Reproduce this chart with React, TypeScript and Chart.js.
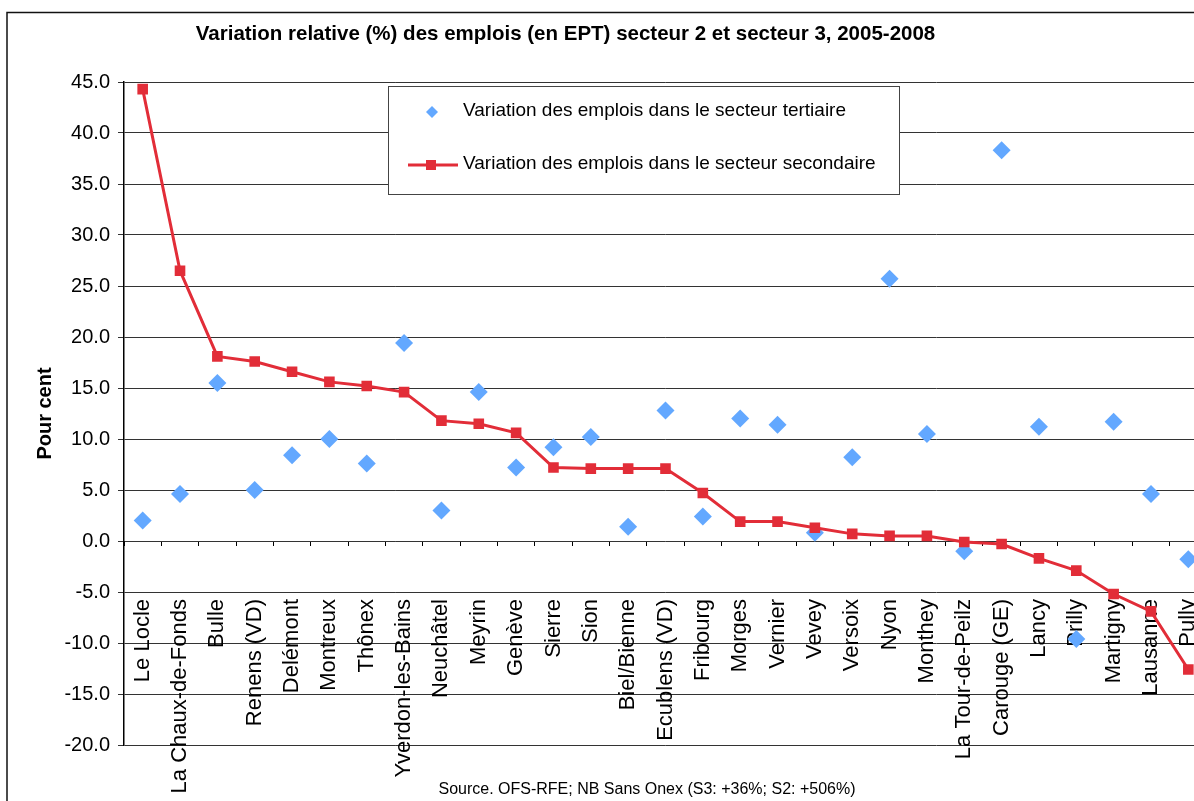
import React, { useEffect, useRef } from "react";
import { Chart, registerables } from "chart.js";

Chart.register(...registerables);

const categories = [
  "Le Locle", "La Chaux-de-Fonds", "Bulle", "Renens (VD)", "Delémont", "Montreux", "Thônex",
  "Yverdon-les-Bains", "Neuchâtel", "Meyrin", "Genève", "Sierre", "Sion", "Biel/Bienne",
  "Ecublens (VD)", "Fribourg", "Morges", "Vernier", "Vevey", "Versoix", "Nyon", "Monthey",
  "La Tour-de-Peilz", "Carouge (GE)", "Lancy", "Prilly", "Martigny", "Lausanne", "Pully",
];

const tertiaire = [
  2.0, 4.6, 15.5, 5.0, 8.4, 10.0, 7.6, 19.4, 3.0, 14.6, 7.2, 9.2, 10.2, 1.4, 12.8, 2.4,
  12.0, 11.4, 0.8, 8.2, 25.7, 10.5, -1.0, 38.3, 11.2, -9.6, 11.7, 4.6, -1.8,
];

const secondaire = [
  44.3, 26.5, 18.1, 17.6, 16.6, 15.6, 15.2, 14.6, 11.8, 11.5, 10.6, 7.2, 7.1, 7.1, 7.1, 4.7,
  1.9, 1.9, 1.3, 0.7, 0.5, 0.5, -0.1, -0.3, -1.7, -2.9, -5.2, -6.9, -12.6,
];

const titleText = "Variation relative (%) des emplois (en EPT) secteur 2 et secteur 3, 2005-2008";
const legendLabels = [
  "Variation des emplois dans le secteur tertiaire",
  "Variation des emplois dans le secteur secondaire",
];
const sourceText = "Source. OFS-RFE; NB Sans Onex (S3: +36%; S2: +506%)";
const yTitle = "Pour cent";

const BLUE = "#63A8FF";
const RED = "#E22D38";
const FONT = "'Liberation Sans', Arial, sans-serif";

const decorPlugin = {
  id: "decor",
  afterDraw(chart: any) {
    const ctx = chart.ctx as CanvasRenderingContext2D;
    ctx.save();
    // outer border
    ctx.strokeStyle = "#111";
    ctx.lineWidth = 1.5;
    ctx.beginPath();
    ctx.moveTo(7, 900);
    ctx.lineTo(7, 12.5);
    ctx.lineTo(chart.width + 10, 12.5);
    ctx.stroke();

    // title
    ctx.fillStyle = "#000";
    ctx.font = `bold 20.5px ${FONT}`;
    ctx.textAlign = "center";
    ctx.textBaseline = "middle";
    ctx.fillText(titleText, 565.5, 34);

    // legend box
    ctx.fillStyle = "#fff";
    ctx.fillRect(388, 86, 511, 108);
    ctx.strokeStyle = "#444";
    ctx.lineWidth = 1;
    ctx.strokeRect(388.5, 86.5, 511, 108);

    // legend item 1: diamond
    ctx.fillStyle = BLUE;
    ctx.beginPath();
    ctx.moveTo(432, 106);
    ctx.lineTo(438, 112);
    ctx.lineTo(432, 118);
    ctx.lineTo(426, 112);
    ctx.closePath();
    ctx.fill();
    // legend item 2: line + square
    ctx.strokeStyle = RED;
    ctx.lineWidth = 3;
    ctx.beginPath();
    ctx.moveTo(408, 165);
    ctx.lineTo(458, 165);
    ctx.stroke();
    ctx.fillStyle = RED;
    ctx.fillRect(426, 160, 10, 10);

    ctx.fillStyle = "#000";
    ctx.font = `19px ${FONT}`;
    ctx.textAlign = "left";
    ctx.textBaseline = "middle";
    ctx.fillText(legendLabels[0], 463, 111);
    ctx.fillText(legendLabels[1], 463, 164);

    // source
    ctx.font = `16px ${FONT}`;
    ctx.textAlign = "center";
    ctx.fillText(sourceText, 647, 790);
    ctx.restore();
  },
};

export default function App() {
  const ref = useRef<HTMLCanvasElement | null>(null);

  useEffect(() => {
    if (!ref.current) return;
    Chart.defaults.font.family = FONT;
    Chart.defaults.color = "#000";
    const chart = new Chart(ref.current, {
      type: "line",
      data: {
        labels: categories,
        datasets: [
          {
            label: legendLabels[1],
            data: secondaire,
            borderColor: RED,
            backgroundColor: RED,
            borderWidth: 3,
            pointStyle: "rect",
            pointRadius: 7.5,
            pointBorderWidth: 0,
            pointBackgroundColor: RED,
            tension: 0,
          },
          {
            label: legendLabels[0],
            data: tertiaire,
            showLine: false,
            borderColor: BLUE,
            backgroundColor: BLUE,
            pointStyle: "rectRot",
            pointRadius: 9,
            pointBorderWidth: 0,
            pointBackgroundColor: BLUE,
          },
        ],
      },
      options: {
        responsive: false,
        animation: false,
        devicePixelRatio: 1,
        layout: { padding: { top: 82, bottom: 56, left: 0, right: 33 } },
        plugins: {
          legend: { display: false },
          title: { display: false },
          tooltip: { enabled: false },
        },
        scales: {
          x: {
            type: "category",
            offset: true,
            position: { y: 0 } as any,
            afterFit: (scale: any) => {
              scale.paddingLeft = 0;
              scale.paddingRight = 0;
            },
            grid: {
              offset: true,
              drawOnChartArea: false,
              drawTicks: true,
              tickLength: 5,
              color: "#000",
            },
            border: { display: false },
            ticks: {
              autoSkip: false,
              minRotation: 90,
              maxRotation: 90,
              padding: 53,
              font: { size: 22, family: FONT },
              color: "#000",
            },
          },
          y: {
            min: -20,
            max: 45,
            afterFit: (scale: any) => {
              scale.width = 124;
            },
            ticks: {
              stepSize: 5,
              padding: 8,
              font: { size: 20, family: FONT },
              color: "#000",
              callback: (v: any) => Number(v).toFixed(1),
            },
            grid: { color: "#333", lineWidth: 1, tickLength: 6 },
            border: { display: true, color: "#000", width: 1.5 },
            title: {
              display: true,
              text: yTitle,
              font: { size: 20, weight: "bold", family: FONT },
              padding: { top: 33, bottom: 0 },
              color: "#000",
            },
          },
        },
      },
      plugins: [decorPlugin],
    });
    return () => chart.destroy();
  }, []);

  return (
    <div
      style={{
        position: "fixed",
        left: 0,
        top: 0,
        width: 1194,
        height: 801,
        overflow: "hidden",
        background: "#fff",
      }}
    >
      <canvas ref={ref} width={1240} height={801} style={{ display: "block" }} />
    </div>
  );
}
